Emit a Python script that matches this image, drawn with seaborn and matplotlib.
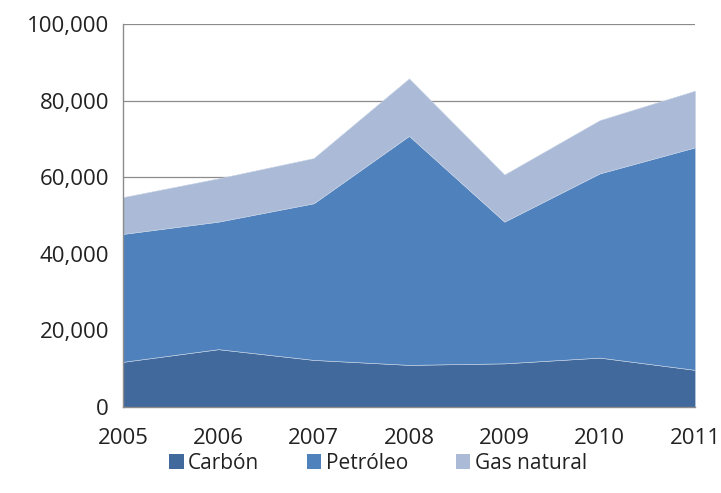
import matplotlib
matplotlib.use("Agg")
import matplotlib.pyplot as plt
import matplotlib.ticker as mticker
from matplotlib.patches import Patch
import seaborn as sns

# data (units: same as y axis)
years = [2005, 2006, 2007, 2008, 2009, 2010, 2011]
carbon = [11800, 15100, 12300, 11000, 11400, 12900, 9700]
petroleo = [33400, 33300, 40900, 59800, 37000, 48100, 58100]
gas_natural = [9600, 11300, 11800, 15000, 12300, 13900, 14800]
labels = ["Carbón", "Petróleo", "Gas natural"]
colors = ["#41699B", "#4F81BD", "#AABAD7"]

sns.set_theme(style="white")
plt.rcParams["font.family"] = ["Open Sans", "DejaVu Sans"]

fig = plt.figure(figsize=(7.21, 4.93), dpi=100)
ax = fig.add_axes([0.1706, 0.1744, 0.7934, 0.7769])

ax.stackplot(years, carbon, petroleo, gas_natural, colors=colors,
             edgecolor="#c8d4e6", linewidth=0.4)

ax.set_xlim(2005, 2011)
ax.set_ylim(0, 100000)
ax.set_yticks(range(0, 100001, 20000))
ax.set_xticks(years)
ax.yaxis.set_major_formatter(mticker.FuncFormatter(lambda v, p: f"{v:,.0f}"))
ax.grid(axis="y", color="#8c8c8c", linewidth=0.9)
ax.set_axisbelow(True)

for s in ["top", "right"]:
    ax.spines[s].set_visible(False)
for s in ["left", "bottom"]:
    ax.spines[s].set_color("#8c8c8c")
    ax.spines[s].set_linewidth(1.0)

ax.tick_params(axis="y", labelsize=16, pad=10, length=0, colors="#222222")
ax.tick_params(axis="x", labelsize=16, pad=15, length=0, colors="#222222")

handles = [Patch(facecolor=c, edgecolor="none") for c in colors]
fig.legend(handles, labels, loc="center", bbox_to_anchor=(0.524, 0.06), ncol=3,
           frameon=False, fontsize=15, handlelength=0.7, handleheight=0.7,
           handletextpad=0.2, columnspacing=2.3, labelcolor="#222222")

fig.savefig("out.png", dpi=100)
